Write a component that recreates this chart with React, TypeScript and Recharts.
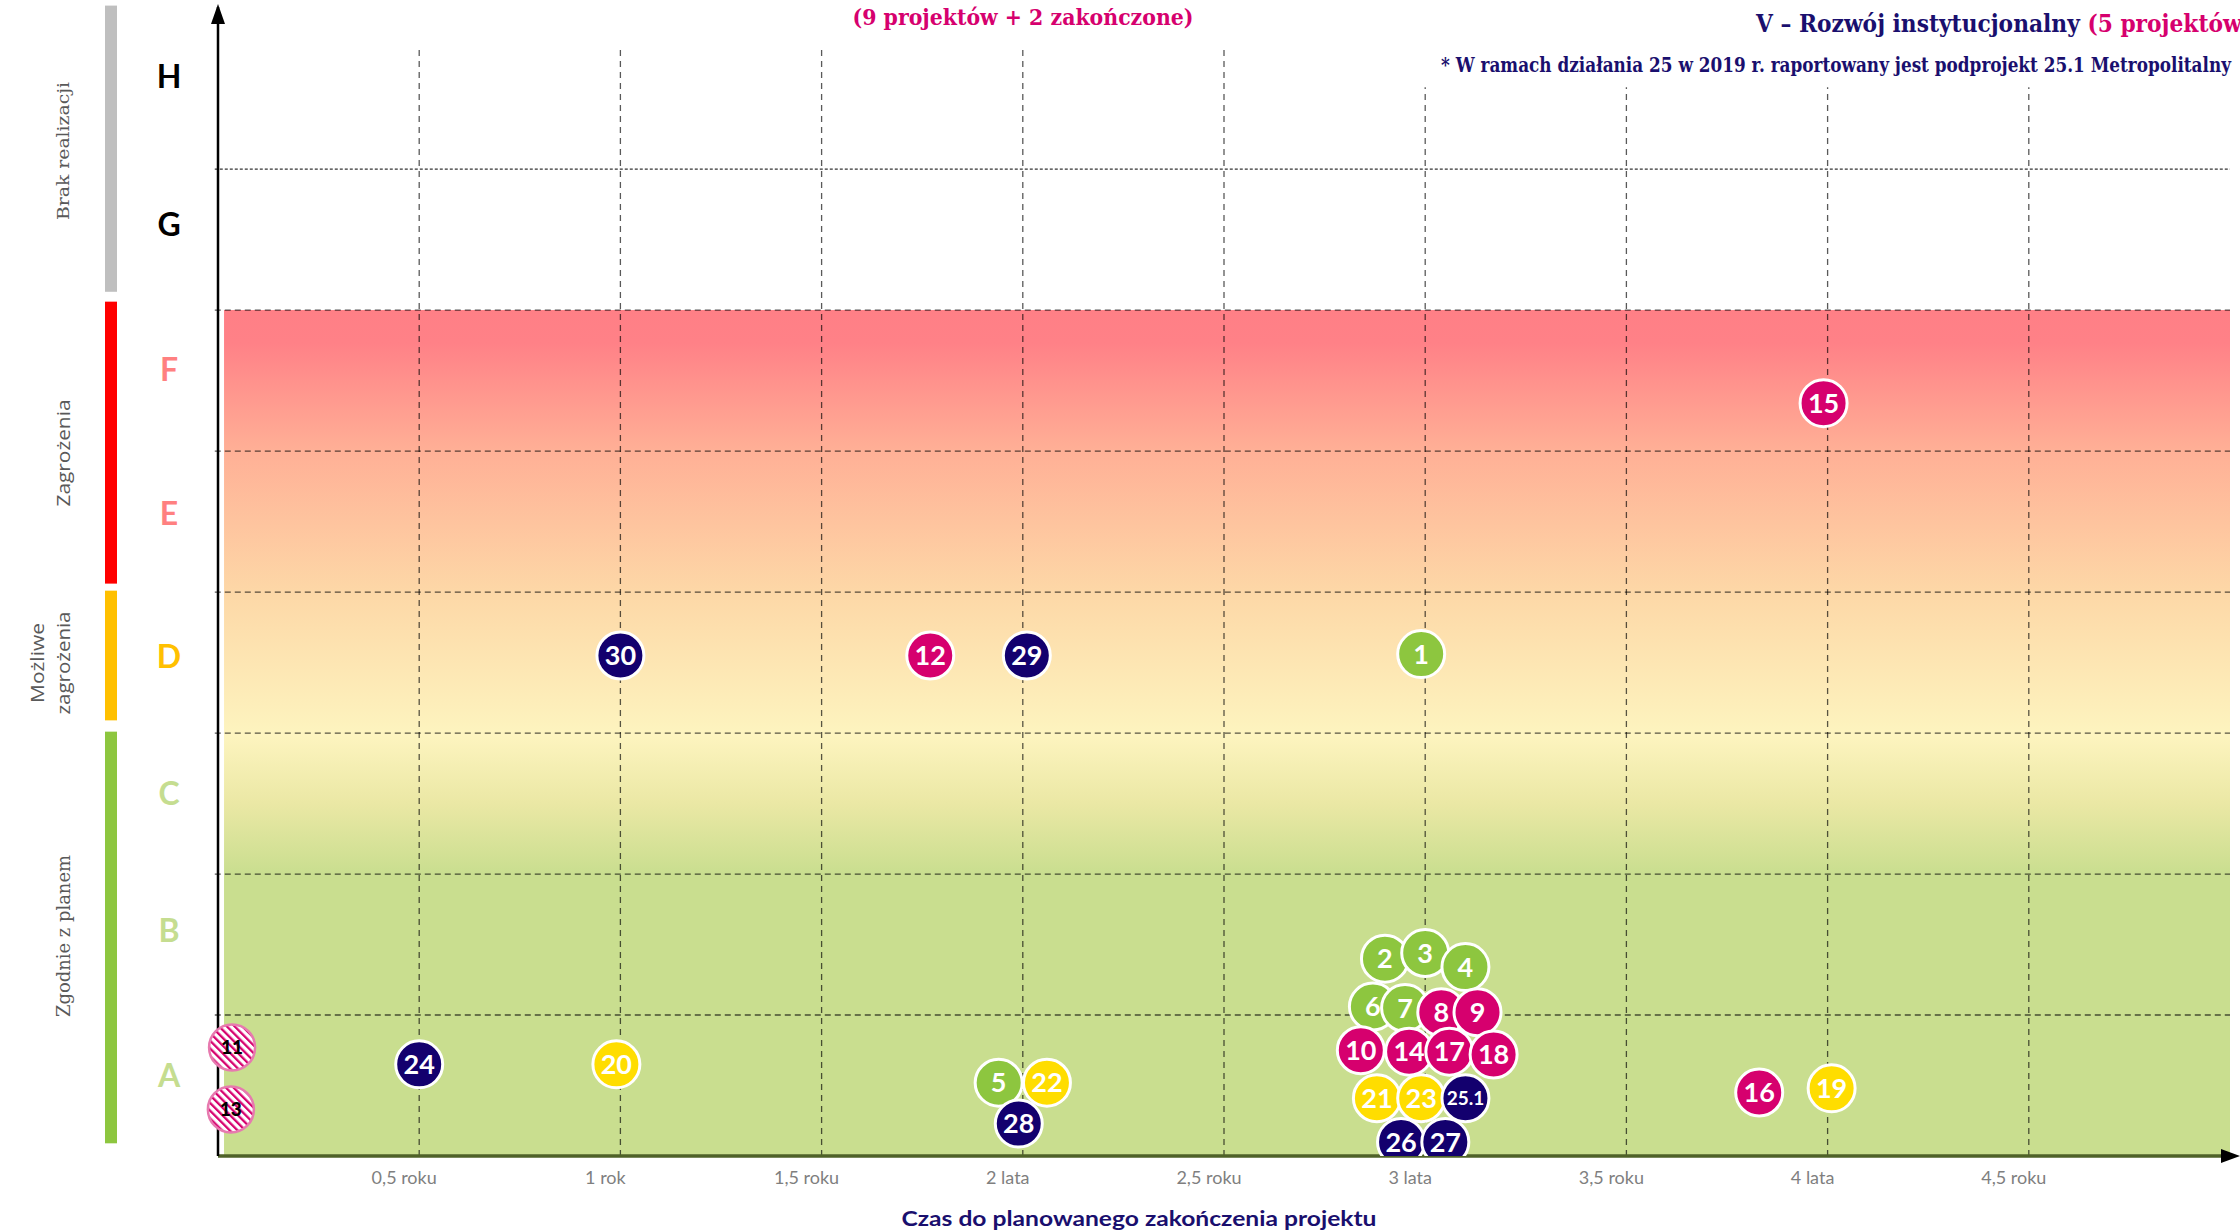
import React from "react";
import { ScatterChart, Scatter, XAxis, YAxis, ReferenceArea, ReferenceLine, ReferenceDot } from "recharts";

document.body.style.margin = "0";

// projects: id, years to planned completion, risk level (A=0..1, B=1..2, ...), group
const PROJECT_IDS = ["1", "2", "3", "4", "5", "6", "7", "8", "9", "10", "12", "14", "15", "16", "17", "18", "19", "20", "21", "22", "23", "24", "25.1", "26", "27", "28", "29", "30"];
const PROJECT_TIME = [2.99, 2.9, 3.0, 3.1, 1.94, 2.87, 2.95, 3.04, 3.13, 2.84, 1.77, 2.96, 3.99, 3.83, 3.06, 3.17, 4.01, 0.99, 2.88, 2.06, 2.99, 0.5, 3.1, 2.94, 3.05, 1.99, 2.01, 1.0];
const PROJECT_LEVEL = [3.56, 1.4, 1.44, 1.34, 0.52, 1.06, 1.05, 1.02, 1.02, 0.75, 3.55, 0.74, 5.34, 0.45, 0.74, 0.72, 0.48, 0.65, 0.41, 0.52, 0.41, 0.65, 0.41, 0.1, 0.1, 0.23, 3.55, 3.55];
const PROJECT_GROUP = ["P1", "P1", "P1", "P1", "P1", "P1", "P1", "P2", "P2", "P2", "P2", "P2", "P2", "P2", "P2", "P2", "P3", "P3", "P3", "P3", "P3", "P4", "P4", "P4", "P4", "P4", "P4", "P4"];

// finished projects (hatched)
const DONE_IDS = ["11", "13"];
const DONE_TIME = [0.035, 0.032];
const DONE_LEVEL = [0.77, 0.33];

const GROUPS = ["P1", "P2", "P3", "P4"];
const GROUP_COLORS: Record<string, string> = { P1: "#8dc63f", P2: "#d6006e", P3: "#ffdd00", P4: "#13006e" };

const X_TICKS = [0.5, 1, 1.5, 2, 2.5, 3, 3.5, 4, 4.5];
const X_TICK_LABELS = ["0,5 roku", "1 rok", "1,5 roku", "2 lata", "2,5 roku", "3 lata", "3,5 roku", "4 lata", "4,5 roku"];
const LEVEL_LABELS = ["A", "B", "C", "D", "E", "F", "G", "H"];
const LEVEL_TICKS = [0.57, 1.6, 2.57, 3.54, 4.56, 5.58, 6.61, 7.66];
const LEVEL_COLORS = ["#c5dd90", "#c5dd90", "#c5dd90", "#ffc000", "#ff8080", "#ff8080", "#000", "#000"];

const W = 2240;
const H = 1232;
const PLOT = { left: 218, right: 2230, top: 7, bottom: 1156 };
const Y_MAX = 8.15;
const yPx = (v: number) => PLOT.bottom - (v / Y_MAX) * (PLOT.bottom - PLOT.top);

const NAVY = "#1a0f6e";
const MAGENTA = "#d6006e";
const GREY_TXT = "#595959";

const SIDE_BARS = [
  { from: 6.13, to: 8.16, color: "#bfbfbf" },
  { from: 4.06, to: 6.06, color: "#ff0000" },
  { from: 3.09, to: 4.01, color: "#ffc000" },
  { from: 0.09, to: 3.01, color: "#8dc63f" },
];

const groupData = (g: string) =>
  PROJECT_IDS.map((id, i) => ({ id, x: PROJECT_TIME[i], y: PROJECT_LEVEL[i], g: PROJECT_GROUP[i] })).filter((d) => d.g === g);
const doneData = DONE_IDS.map((id, i) => ({ id, x: DONE_TIME[i], y: DONE_LEVEL[i] }));

function Bubble(props: any) {
  const { cx, cy, payload, color } = props;
  if (cx == null || cy == null) return null;
  const small = payload.id.length > 2;
  return (
    <g>
      <circle cx={cx} cy={cy} r={23.5} fill={color} stroke="#fff" strokeWidth={3} />
      <text x={cx} y={cy} dy="0.36em" textAnchor="middle" fill="#fff" fontFamily="Lato" fontWeight={700} fontSize={small ? 19 : 27}>
        {payload.id}
      </text>
    </g>
  );
}

function DoneBubble(props: any) {
  const { cx, cy, payload } = props;
  if (cx == null || cy == null) return null;
  return (
    <g>
      <circle cx={cx} cy={cy} r={23} fill="url(#hatch)" stroke="#e77aaf" strokeWidth={2.5} />
      <text x={cx} y={cy} dy="0.36em" textAnchor="middle" fill="#000" fontFamily="Lato" fontWeight={900} fontSize={19}>
        {payload.id}
      </text>
    </g>
  );
}

const LevelTick = (props: any) => {
  const i = LEVEL_TICKS.indexOf(props.payload.value);
  return (
    <text x={169} y={props.y} dy="0.36em" textAnchor="middle" fill={LEVEL_COLORS[i]} fontFamily="Lato" fontWeight={700} fontSize={32}>
      {LEVEL_LABELS[i]}
    </text>
  );
};

const TimeTick = (props: any) => {
  const i = X_TICKS.indexOf(props.payload.value);
  return (
    <text x={props.x - 15} y={PLOT.bottom + 28} textAnchor="middle" fill="#7f7f7f" fontFamily="Lato" fontSize={18}>
      {X_TICK_LABELS[i]}
    </text>
  );
};

const ArrowUp = (p: any) => <path d={`M${p.cx},${p.cy - 3} L${p.cx - 7},${p.cy + 17} L${p.cx + 7},${p.cy + 17} Z`} fill="#000" />;
const ArrowRight = (p: any) => <path d={`M${p.cx + 10},${p.cy} L${p.cx - 9},${p.cy - 7} L${p.cx - 9},${p.cy + 7} Z`} fill="#000" />;

export default function App() {
  return (
    <div style={{ position: "relative", width: W, height: H, background: "#fff", overflow: "hidden" }}>
      <ScatterChart width={W} height={H} margin={{ top: PLOT.top, right: W - PLOT.right, bottom: 0, left: 0 }}>
        <defs>
          <linearGradient id="bgGrad" x1="0" y1="0" x2="0" y2="1">
            <stop offset="0" stopColor="#ff7f86" />
            <stop offset="0.058" stopColor="#ff8187" />
            <stop offset="0.251" stopColor="#ffb096" />
            <stop offset="0.503" stopColor="#fdd8a7" />
            <stop offset="0.754" stopColor="#fdf4bf" />
            <stop offset="0.873" stopColor="#ebe8a5" />
            <stop offset="1" stopColor="#c9de8f" />
          </linearGradient>
          <pattern id="hatch" width="5.5" height="5.5" patternUnits="userSpaceOnUse" patternTransform="rotate(-45)">
            <rect width="5.5" height="5.5" fill="#fff" />
            <rect width="2.3" height="5.5" fill={MAGENTA} />
          </pattern>
        </defs>
        <XAxis
          type="number"
          dataKey="x"
          domain={[0, 5]}
          ticks={X_TICKS}
          interval={0}
          height={H - PLOT.bottom}
          axisLine={{ stroke: "#4f6228", strokeWidth: 3.5 }}
          tickLine={false}
          tick={TimeTick}
        />
        <YAxis
          type="number"
          dataKey="y"
          domain={[0, Y_MAX]}
          allowDataOverflow
          ticks={LEVEL_TICKS}
          interval={0}
          width={PLOT.left}
          axisLine={{ stroke: "#000", strokeWidth: 2.5 }}
          tickLine={false}
          tick={LevelTick}
        />
        <ReferenceArea x1={0.015} x2={5} y1={2} y2={6} fill="url(#bgGrad)" fillOpacity={1} stroke="none" />
        <ReferenceArea x1={0.015} x2={5} y1={0} y2={2} fill="#c9de8f" fillOpacity={1} stroke="none" />
        {[1, 2, 3, 4, 5, 6, 7].map((k) => (
          <ReferenceLine
            key={`h${k}`}
            segment={[{ x: -0.008, y: k }, { x: 5, y: k }]}
            ifOverflow="visible"
            stroke="#000"
            strokeOpacity={k === 7 ? 0.8 : 0.65}
            strokeWidth={1.3}
            strokeDasharray={k === 7 ? "3 2" : "6 4"}
          />
        ))}
        {X_TICKS.map((t) => (
          <ReferenceLine
            key={`v${t}`}
            segment={[{ x: t, y: 0 }, { x: t, y: t >= 3 ? 7.58 : 7.88 }]}
            stroke="#000"
            strokeOpacity={0.65}
            strokeWidth={1.3}
            strokeDasharray="6 5"
          />
        ))}
        {GROUPS.map((g) => (
          <Scatter
            key={g}
            data={groupData(g)}
            isAnimationActive={false}
            shape={(p: any) => <Bubble {...p} color={GROUP_COLORS[g]} />}
          />
        ))}
        <Scatter data={doneData} isAnimationActive={false} shape={(p: any) => <DoneBubble {...p} />} />
        <ReferenceDot x={0} y={Y_MAX} ifOverflow="visible" shape={ArrowUp} />
        <ReferenceDot x={5} y={0} ifOverflow="visible" shape={ArrowRight} />
      </ScatterChart>

      <svg width={W} height={H} style={{ position: "absolute", left: 0, top: 0, pointerEvents: "none" }}>
        {SIDE_BARS.map((b, i) => (
          <rect key={i} x={105} y={yPx(b.to)} width={12} height={yPx(b.from) - yPx(b.to)} fill={b.color} />
        ))}
        <g fill={GREY_TXT}>
          <text x={63} y={151} transform="rotate(-90 63 151)" textAnchor="middle" dominantBaseline="central" fontFamily="DejaVu Serif" fontSize={17} textLength={138} lengthAdjust="spacingAndGlyphs">
            Brak realizacji
          </text>
          <text x={63} y={453} transform="rotate(-90 63 453)" textAnchor="middle" dominantBaseline="central" fontFamily="Open Sans" fontSize={19} textLength={107} lengthAdjust="spacingAndGlyphs">
            Zagrożenia
          </text>
          <text x={37} y={663} transform="rotate(-90 37 663)" textAnchor="middle" dominantBaseline="central" fontFamily="Open Sans" fontSize={19} textLength={80} lengthAdjust="spacingAndGlyphs">
            Możliwe
          </text>
          <text x={63} y={663} transform="rotate(-90 63 663)" textAnchor="middle" dominantBaseline="central" fontFamily="Open Sans" fontSize={19} textLength={103} lengthAdjust="spacingAndGlyphs">
            zagrożenia
          </text>
          <text x={63} y={936} transform="rotate(-90 63 936)" textAnchor="middle" dominantBaseline="central" fontFamily="DejaVu Serif" fontSize={18} textLength={162} lengthAdjust="spacingAndGlyphs">
            Zgodnie z planem
          </text>
        </g>

        <text x={1023} y={25} textAnchor="middle" fill={MAGENTA} fontFamily="DejaVu Serif" fontWeight={700} fontSize={22} textLength={341} lengthAdjust="spacingAndGlyphs">
          (9 projektów + 2 zakończone)
        </text>
        <text x={1756} y={32} fontFamily="DejaVu Serif" fontWeight={700} fontSize={25} textLength={496} lengthAdjust="spacingAndGlyphs">
          <tspan fill={NAVY}>V – Rozwój instytucjonalny </tspan>
          <tspan fill={MAGENTA}>(5 projektów)</tspan>
        </text>
        <text x={1441} y={72} fill={NAVY} fontFamily="DejaVu Serif" fontWeight={700} fontSize={20} textLength={790} lengthAdjust="spacingAndGlyphs">
          * W ramach działania 25 w 2019 r. raportowany jest podprojekt 25.1 Metropolitalny
        </text>

        <text x={1139} y={1226} textAnchor="middle" fill={NAVY} fontFamily="Lato" fontWeight={700} fontSize={21} textLength={475} lengthAdjust="spacingAndGlyphs">
          Czas do planowanego zakończenia projektu
        </text>
      </svg>
    </div>
  );
}
